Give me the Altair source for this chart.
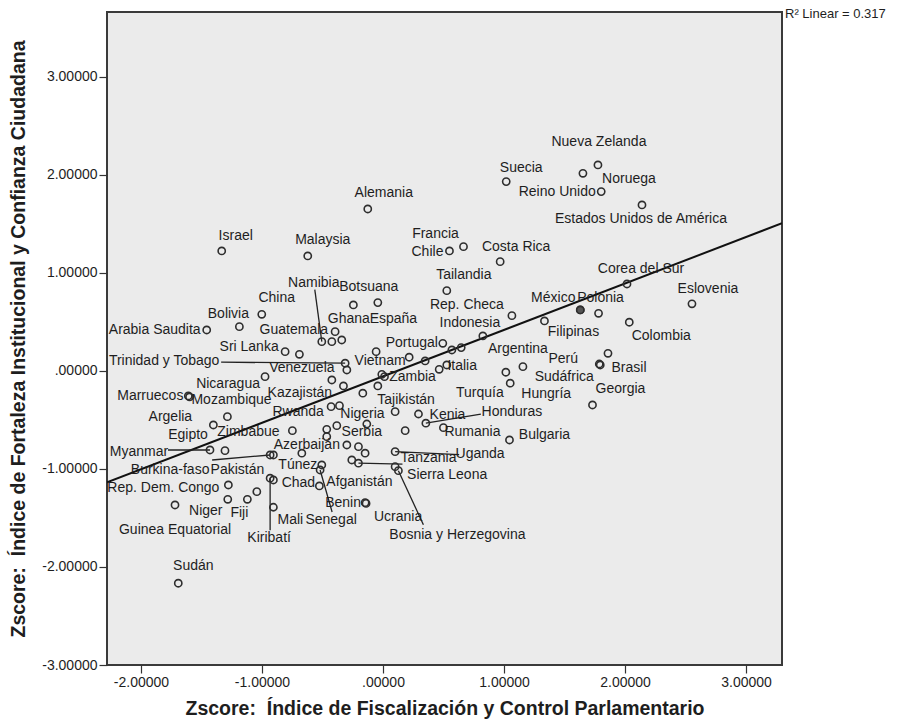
import altair as alt
import pandas as pd

# Country z-scores: x = Índice de Fiscalización y Control Parlamentario,
# y = Índice de Fortaleza Institucional y Confianza Ciudadana
countries = [
    "Sudán", "Israel", "Malaysia", "Alemania", "Francia", "Chile", "Tailandia",
    "Costa Rica", "Suecia", "Nueva Zelanda", "Noruega", "Reino Unido",
    "Estados Unidos de América", "Corea del Sur", "Eslovenia", "México", "Polonia",
    "Rep. Checa", "Filipinas", "Colombia", "Indonesia", "Portugal", "Argentina",
    "Perú", "Brasil", "Sudáfrica", "Turquía", "Hungría", "Georgia", "Bulgaria",
    "Honduras", "Kenia", "Rumania", "Tanzania", "Uganda", "Sierra Leona",
    "Bosnia y Herzegovina", "Ucrania", "Benin", "Senegal", "Mali", "Kiribatí",
    "Chad", "Afganistán", "Túnez", "Pakistán", "Burkina-faso", "Myanmar", "Egipto",
    "Argelia", "Zimbabue", "Marruecos", "Mozambique", "Nicaragua",
    "Trinidad y Tobago", "Venezuela", "Sri Lanka", "Arabia Saudita", "Bolivia",
    "China", "Namibia", "Guatemala", "Botsuana", "España", "Ghana", "Vietnam",
    "Italia", "Zambia", "Kazajistán", "Tajikistán", "Rwanda", "Nigeria", "Serbia",
    "Azerbaiján", "Rep. Dem. Congo", "Guinea Equatorial", "Niger", "Fiji",
    "", "", "", "", "", "", "", "", "", "", "", "", "", "", "", "", "", "", "", "", "",
]
fiscalizacion = [
    -1.692, -1.333, -0.622, -0.126, 0.665, 0.549, 0.527,
    0.968, 1.018, 1.776, 1.652, 1.803,
    2.140, 2.016, 2.553, 1.630, 1.781,
    1.065, 1.334, 2.035, 0.825, 0.494, 1.156,
    1.787, 1.859, 1.795, 1.015, 1.051, 1.731, 1.045,
    0.354, 0.293, 0.499, -0.203, 0.100, 0.100,
    0.127, -0.140, -0.148, -0.520, -0.906, -0.933,
    -0.906, -0.526, -0.506, -0.906, -0.933, -1.430, -1.306,
    -1.402, -1.286, -1.609, -1.599, -0.975,
    -0.313, -0.299, -0.809, -1.457, -1.187,
    -1.002, -0.506, -0.423, -0.043, -0.245, -0.341, 0.216,
    0.464, 0.012, -0.423, 0.100, -0.429, -0.360, -0.382,
    -0.299, -1.278, -1.719, -1.283, -1.121,
    0.569, 0.646, -0.691, -0.396, -0.057, 0.348, 0.527, -0.010, -0.327, -0.043,
    -0.167, -0.134, -0.465, -0.465, -0.749, 0.183, -0.203, -0.148, -0.258, -0.671,
    -1.043,
]
fortaleza = [
    -2.166, 1.223, 1.172, 1.651, 1.267, 1.223, 0.818,
    1.114, 1.930, 2.100, 2.015, 1.828,
    1.692, 0.886, 0.684, 0.621, 0.587,
    0.563, 0.509, 0.496, 0.356, 0.281, 0.043,
    0.070, 0.179, 0.060, -0.014, -0.126, -0.348, -0.705,
    -0.534, -0.440, -0.579, -0.942, -0.824, -0.977,
    -1.018, -1.352, -1.344, -1.011, -1.391, -1.095,
    -1.113, -1.174, -0.960, -0.858, -0.858, -0.807, -0.814,
    -0.552, -0.467, -0.256, -0.266, -0.059,
    0.078, 0.009, 0.196, 0.417, 0.451,
    0.577, 0.298, 0.298, 0.696, 0.672, 0.315, 0.139,
    0.016, -0.059, -0.093, -0.416, -0.365, -0.355, -0.559,
    -0.756, -1.164, -1.368, -1.310, -1.310,
    0.213, 0.237, 0.169, 0.400, 0.196, 0.101, 0.060, -0.035, -0.154, -0.154,
    -0.228, -0.542, -0.596, -0.671, -0.610, -0.610, -0.773, -0.840, -0.909, -0.840,
    -1.232,
]
# Linear fit of fortaleza on fiscalización (R² = 0.317)
fit_intercept = -0.056
fit_slope = 0.4736
r2_text = "R² Linear = 0.317"
x_ticks = [-2, -1, 0, 1, 2, 3]
y_ticks = [-3, -2, -1, 0, 1, 2, 3]
x_title = "Zscore:\u00a0 Índice de Fiscalización y Control Parlamentario"
y_title = "Zscore:\u00a0 Índice de Fortaleza Institucional y Confianza Ciudadana"

# Label placement: pixel offset of each label's centre from its point
label_offsets = {
    "Sudán": (15, -17), "Israel": (14, -15), "Malaysia": (15, -16),
    "Alemania": (16, -16), "Francia": (-28, -13), "Chile": (-22, 1),
    "Tailandia": (17, -16), "Costa Rica": (16, -15), "Suecia": (15, -14),
    "Nueva Zelanda": (1, -23), "Noruega": (46, 6), "Reino Unido": (-44, 0),
    "Estados Unidos de América": (-1, 14), "Corea del Sur": (14, -15),
    "Eslovenia": (16, -15), "México": (-27, -12), "Polonia": (2, -15),
    "Rep. Checa": (-45, -11), "Filipinas": (29, 11), "Colombia": (32, 14),
    "Indonesia": (-13, -13), "Portugal": (-31, 0), "Argentina": (-5, -18),
    "Perú": (-36, -5), "Brasil": (21, 15), "Sudáfrica": (-36, 12),
    "Turquía": (-26, 21), "Hungría": (36, 11), "Georgia": (28, -16),
    "Bulgaria": (35, -5), "Honduras": (86, -11), "Kenia": (29, 1),
    "Rumania": (29, 4), "Tanzania": (70, -5), "Uganda": (85, 2),
    "Sierra Leona": (52, 8), "Bosnia y Herzegovina": (59, 64),
    "Ucrania": (32, 14), "Benin": (-22, 0), "Senegal": (11, 50),
    "Mali": (17, 13), "Kiribatí": (-1, 60), "Chad": (25, 3),
    "Afganistán": (40, -4), "Túnez": (-24, 0), "Pakistán": (-36, 15),
    "Burkina-faso": (-100, 15), "Myanmar": (-71, 2), "Egipto": (-37, -16),
    "Argelia": (-43, -8), "Zimbabue": (21, 15), "Marruecos": (-38, 0),
    "Mozambique": (42, 3), "Nicaragua": (-37, 7), "Trinidad y Tobago": (-181, -2),
    "Venezuela": (-45, -2), "Sri Lanka": (-36, -5), "Arabia Saudita": (-52, 0),
    "Bolivia": (-11, -13), "China": (15, -16), "Namibia": (-8, -59),
    "Guatemala": (-38, -12), "Botsuana": (-9, -16), "España": (40, 14),
    "Ghana": (7, -21), "Vietnam": (-29, 4), "Italia": (23, -3), "Zambia": (28, 0),
    "Kazajistán": (-32, 13), "Tajikistán": (11, -12), "Rwanda": (-33, 5),
    "Nigeria": (23, 8), "Serbia": (25, 6), "Azerbaiján": (-40, 0),
    "Rep. Dem. Congo": (-65, 3), "Guinea Equatorial": (0, 25), "Niger": (-22, 12),
    "Fiji": (-8, 14),
}
# Leader lines for labels set away from their point: pixel offset of the far end
leader_ends = {
    "Honduras": (55, -9), "Tanzania": (44, 1), "Uganda": (64, 3),
    "Bosnia y Herzegovina": (25, 54), "Senegal": (12, 42), "Kiribatí": (0, 52),
    "Burkina-faso": (-58, 5), "Myanmar": (-42, 0), "Trinidad y Tobago": (-124, -1),
    "Namibia": (-7, -52),
}

X_DOMAIN = [-2.281, 3.297]
Y_DOMAIN = [-3.0, 3.66]
W, H = 675, 653
kx = W / (X_DOMAIN[1] - X_DOMAIN[0])
ky = H / (Y_DOMAIN[1] - Y_DOMAIN[0])

FONT = "Liberation Sans, Arial, sans-serif"
INK = "#1e1e1e"

points = pd.DataFrame({"pais": countries, "fisc": fiscalizacion, "fort": fortaleza})

label_rows, leader_rows = [], []
for name, (dx, dy) in label_offsets.items():
    i = countries.index(name)
    x0, y0 = fiscalizacion[i], fortaleza[i]
    label_rows.append({"pais": name, "lx": x0 + dx / kx, "ly": y0 - dy / ky})
    if name in leader_ends:
        ex, ey = leader_ends[name]
        leader_rows.append({"x": x0, "y": y0, "x2": x0 + ex / kx, "y2": y0 - ey / ky})
labels = pd.DataFrame(label_rows)
leaders = pd.DataFrame(leader_rows)

fit_line = pd.DataFrame({"fisc": X_DOMAIN})
fit_line["fort"] = fit_intercept + fit_slope * fit_line["fisc"]

tick_fmt = "(datum.value < 0 ? '-' : '') + (datum.value == 0 ? '.00000' : format(abs(datum.value), '.5f'))"

x_scale = alt.Scale(domain=X_DOMAIN, nice=False, zero=False)
y_scale = alt.Scale(domain=Y_DOMAIN, nice=False, zero=False)

x_enc = alt.X(
    "fisc:Q", scale=x_scale,
    axis=alt.Axis(
        values=x_ticks, labelExpr=tick_fmt, grid=False, domain=False,
        tickSize=8, tickColor="#333", tickWidth=1.2, labelPadding=2,
        labelFont=FONT, labelFontSize=14, labelColor=INK,
        title=x_title,
        titleFont=FONT, titleFontSize=19.5, titleFontWeight="bold", titleColor=INK,
        titleX=W / 2, titleY=43, titleBaseline="middle", titleAlign="center",
    ),
)
y_enc = alt.Y(
    "fort:Q", scale=y_scale,
    axis=alt.Axis(
        values=y_ticks, labelExpr=tick_fmt, grid=False, domain=False,
        tickSize=8, tickColor="#333", tickWidth=1.2, labelPadding=2,
        labelFont=FONT, labelFontSize=14, labelColor=INK,
        title=y_title,
        titleFont=FONT, titleFontSize=19.5, titleFontWeight="bold", titleColor=INK,
        titleX=-89, titleY=H / 2, titleAngle=270, titleBaseline="middle",
        titleAlign="center",
    ),
)

fit = alt.Chart(fit_line).mark_line(color="#111", strokeWidth=2, clip=True).encode(
    x=x_enc, y=y_enc
)

leader_lines = alt.Chart(leaders).mark_rule(color="#222", strokeWidth=1.3).encode(
    x=alt.X("x:Q", scale=x_scale), y=alt.Y("y:Q", scale=y_scale),
    x2="x2:Q", y2="y2:Q",
)

base = alt.Chart(points)

circles = base.mark_point(
    shape="circle", filled=False, size=52, strokeWidth=1.6, color="#2e2e2e", opacity=1
).encode(x=x_enc, y=y_enc)

overlap = base.transform_filter(alt.datum.pais == "México").mark_point(
    shape="circle", filled=True, size=52, color="#555", opacity=1,
    stroke="#2e2e2e", strokeWidth=1.6,
).encode(x=x_enc, y=y_enc)

text = alt.Chart(labels).mark_text(
    font=FONT, fontSize=14, color=INK, align="center", baseline="middle"
).encode(
    x=alt.X("lx:Q", scale=x_scale), y=alt.Y("ly:Q", scale=y_scale), text="pais:N"
)

r2 = alt.Chart(pd.DataFrame({"t": [r2_text]})).mark_text(
    font=FONT, fontSize=13, color=INK, align="left", baseline="middle"
).encode(x=alt.value(W + 3), y=alt.value(2), text="t:N")

chart = alt.layer(fit, leader_lines, circles, overlap, text, r2).properties(
    width=W, height=H,
    autosize=alt.AutoSizeParams(type="none"),
    padding={"left": 107, "top": 12, "right": 116, "bottom": 59},
    background="white",
).configure_view(
    fill="#ebebeb", stroke="#3a3a3a", strokeWidth=2
)

chart.save("out.html", embed_options={"renderer": "svg", "actions": False})
